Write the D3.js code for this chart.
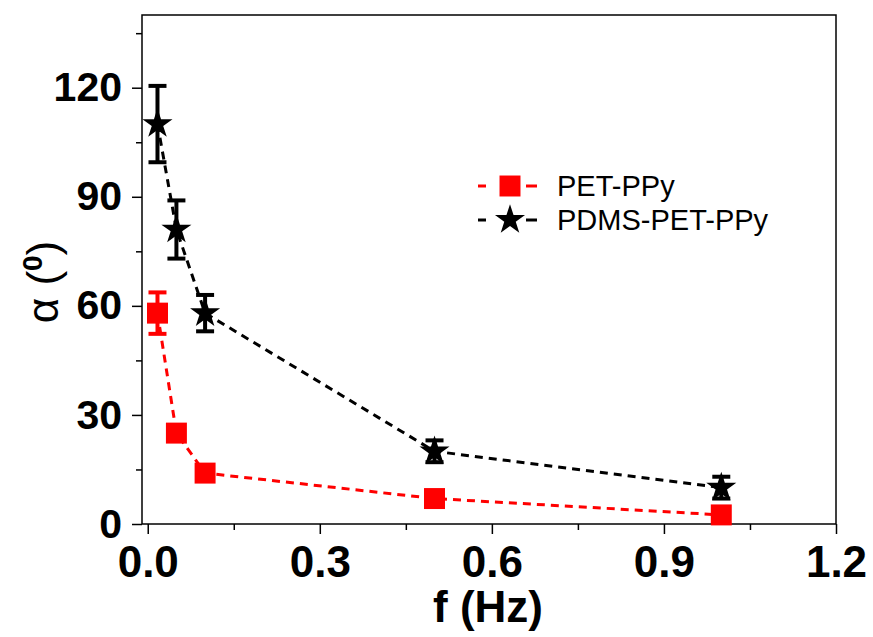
<!DOCTYPE html>
<html>
<head>
<meta charset="utf-8">
<script src="https://cdn.jsdelivr.net/npm/d3@7"></script>
<style>
  body { margin: 0; background: #fff; }
  svg { display: block; font-family: "Liberation Sans", Arial, sans-serif; }
</style>
</head>
<body>
<svg id="chart" width="873" height="637"></svg>
<script>
// frequency (Hz) and bending angle alpha (deg)
const freq = [0.017, 0.05, 0.1, 0.5, 1.0];
const petAlpha = [58, 25, 14, 7, 2.5];
const petErr = [5.7, 0, 0, 0, 0];
const pdmsAlpha = [110, 81, 58, 20, 10];
const pdmsErr = [10.5, 8, 5, 3, 3];
const xTicks = [0.0, 0.3, 0.6, 0.9, 1.2];
const yTicks = [0, 30, 60, 90, 120];

const svg = d3.select('#chart');
const plotL = 142, plotR = 836, plotT = 15, plotB = 524;

const x = d3.scaleLinear().domain([-0.01, 1.2]).range([plotL, plotR]);
const y = d3.scaleLinear().domain([0, 140]).range([plotB, plotT]);

// frame
svg.append('rect')
    .attr('x', plotL).attr('y', plotT)
    .attr('width', plotR - plotL).attr('height', plotB - plotT)
    .attr('fill', 'none').attr('stroke', '#000').attr('stroke-width', 1.5);

// minor ticks
const xMinor = [0.15, 0.45, 0.75, 1.05];
const yMinor = [15, 45, 75, 105, 135];

const xAxis = svg.append('g')
    .attr('transform', `translate(0,${plotB})`)
    .call(d3.axisBottom(x).tickValues(xTicks).tickFormat(d3.format('.1f'))
        .tickSize(10).tickPadding(12));
svg.append('g')
    .attr('transform', `translate(0,${plotB})`)
    .call(d3.axisBottom(x).tickValues(xMinor).tickFormat('').tickSize(6));

const yAxis = svg.append('g')
    .attr('transform', `translate(${plotL},0)`)
    .call(d3.axisLeft(y).tickValues(yTicks).tickFormat(d3.format('d'))
        .tickSize(10).tickPadding(10));
svg.append('g')
    .attr('transform', `translate(${plotL},0)`)
    .call(d3.axisLeft(y).tickValues(yMinor).tickFormat('').tickSize(6));

svg.selectAll('.domain').remove();
svg.selectAll('.tick line').attr('stroke', '#000').attr('stroke-width', 1.5);
svg.selectAll('.tick text')
    .attr('fill', '#000')
    .style('font-weight', 'bold')
    .style('font-family', '"Liberation Sans", Arial, sans-serif');
xAxis.selectAll('.tick text').style('font-size', '44px');
yAxis.selectAll('.tick text').style('font-size', '41px');

// axis titles
svg.append('text')
    .attr('x', 488)
    .attr('y', 622)
    .attr('text-anchor', 'middle')
    .style('font-size', '44px')
    .style('font-weight', 'bold')
    .text('f (Hz)');

const yt = svg.append('text')
    .attr('transform', 'translate(58,282) rotate(-90)')
    .attr('text-anchor', 'middle')
    .style('font-size', '44px');
yt.append('tspan').text('α (');
yt.append('tspan').attr('dy', -16).style('font-size', '28px').style('font-weight', 'bold').text('0');
yt.append('tspan').attr('dy', 16).text(')');

const seriesList = [
    { name: 'PET-PPy', vals: petAlpha, errs: petErr, color: '#ff0000', symbol: d3.symbolSquare, size: 440 },
    { name: 'PDMS-PET-PPy', vals: pdmsAlpha, errs: pdmsErr, color: '#000000', symbol: d3.symbolStar, size: 280 }
];

const line = d3.line().x(d => x(d[0])).y(d => y(d[1]));

seriesList.forEach(s => {
    const pts = freq.map((f, i) => [f, s.vals[i], s.errs[i]]);

    svg.append('path')
        .datum(pts)
        .attr('d', line)
        .attr('fill', 'none')
        .attr('stroke', s.color)
        .attr('stroke-width', 3)
        .attr('stroke-dasharray', '8,6');

    // error bars
    const eb = svg.append('g').selectAll('g')
        .data(pts.filter(d => d[2] > 0))
        .enter().append('g');
    eb.append('line')
        .attr('x1', d => x(d[0])).attr('x2', d => x(d[0]))
        .attr('y1', d => y(d[1] + d[2])).attr('y2', d => y(d[1] - d[2]))
        .attr('stroke', s.color).attr('stroke-width', 4);
    [1, -1].forEach(sign => {
        eb.append('line')
            .attr('x1', d => x(d[0]) - 9).attr('x2', d => x(d[0]) + 9)
            .attr('y1', d => y(d[1] + sign * d[2])).attr('y2', d => y(d[1] + sign * d[2]))
            .attr('stroke', s.color).attr('stroke-width', 4);
    });

    svg.append('g').selectAll('path')
        .data(pts)
        .enter().append('path')
        .attr('transform', d => `translate(${x(d[0])},${y(d[1])})`)
        .attr('d', d3.symbol().type(s.symbol).size(s.size))
        .attr('fill', s.color);
});

// legend
const legend = svg.append('g').attr('transform', 'translate(478,186)');
seriesList.forEach((s, i) => {
    const g = legend.append('g').attr('transform', `translate(0,${i * 34})`);
    g.append('line')
        .attr('x1', 0).attr('x2', 8).attr('y1', 0).attr('y2', 0)
        .attr('stroke', s.color).attr('stroke-width', 3);
    g.append('line')
        .attr('x1', 48).attr('x2', 59).attr('y1', 0).attr('y2', 0)
        .attr('stroke', s.color).attr('stroke-width', 3);
    g.append('path')
        .attr('transform', 'translate(32,0)')
        .attr('d', d3.symbol().type(s.symbol).size(s.size))
        .attr('fill', s.color);
    g.append('text')
        .attr('x', 79).attr('y', 0).attr('dy', '0.36em')
        .style('font-size', '29px')
        .text(s.name);
});
</script>
</body>
</html>
